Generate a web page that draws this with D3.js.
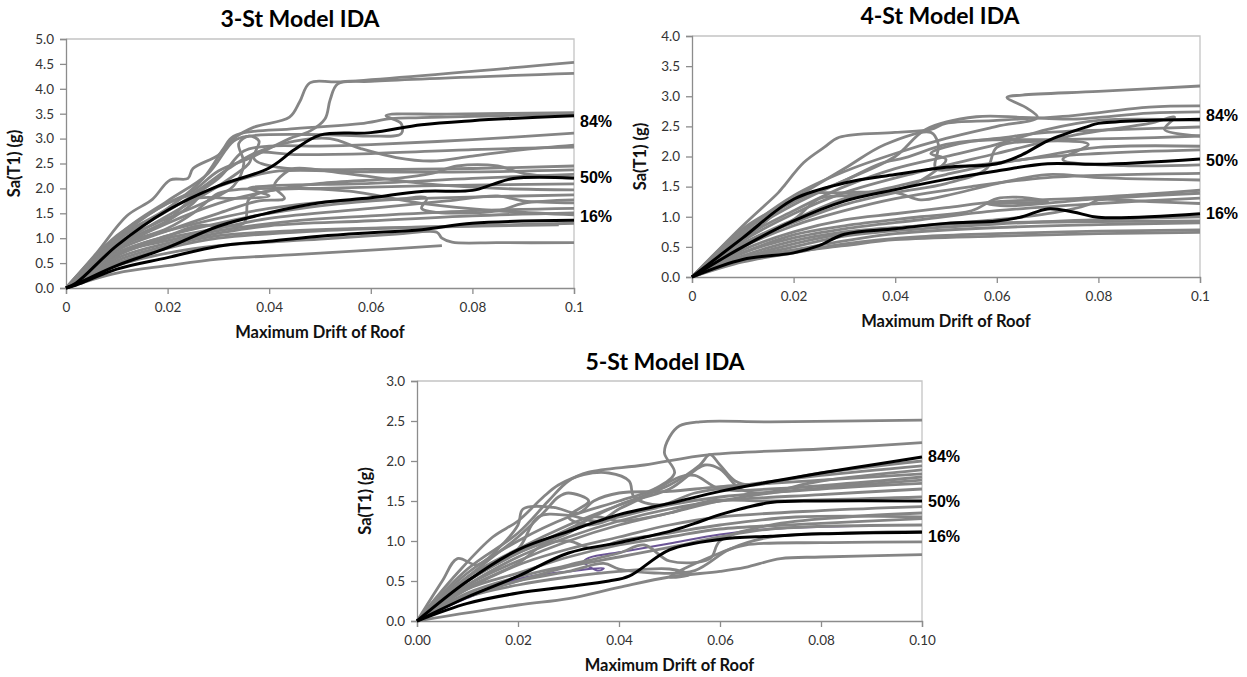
<!DOCTYPE html>
<html>
<head>
<meta charset="utf-8">
<script src="https://cdn.jsdelivr.net/npm/d3@7"></script>
<style>
  body { margin: 0; background: #fff; }
  svg { display: block; }
  .tick-label { font-family: Lato, "Open Sans", sans-serif; font-size: 13.5px; fill: #333; }
  .axis-title { font-family: Lato, "Open Sans", sans-serif; font-size: 16.5px; font-weight: bold; fill: #111; }
  .chart-title { font-family: Lato, "Open Sans", sans-serif; font-size: 23px; font-weight: bold; fill: #000; }
  .pct { font-family: "Liberation Sans", Arial, sans-serif; font-size: 16px; font-weight: bold; fill: #000; }
</style>
</head>
<body>
<script>
const width = 1247;
const height = 677;

// tick values
const xTicks = [0, 0.02, 0.04, 0.06, 0.08, 0.1];
const yTicks3 = [0, 0.5, 1, 1.5, 2, 2.5, 3, 3.5, 4, 4.5, 5];
const yTicks4 = [0, 0.5, 1, 1.5, 2, 2.5, 3, 3.5, 4];
const yTicks5 = [0, 0.5, 1, 1.5, 2, 2.5, 3];

const pctLabels = ["84%", "50%", "16%"];
// Sa level where each percentile label sits
const labelSa3 = [3.35, 2.23, 1.43];
const labelSa4 = [2.69, 1.94, 1.06];
const labelSa5 = [2.06, 1.5, 1.06];

// 3-storey IDA curves [drift, Sa]
const ida3 = [
  [[0,0],[0.006,0.7],[0.012,1.45],[0.017,1.78],[0.0205,2.17],[0.024,2.2],[0.025,2.4],[0.03,2.67],[0.033,3.0],[0.037,3.23],[0.044,3.43],[0.046,3.74],[0.048,4.12],[0.054,4.14],[0.1,4.53]],
  [[0,0],[0.01,1.05],[0.02,1.7],[0.025,1.95],[0.03,2.35],[0.036,2.6],[0.041,2.85],[0.044,3.0],[0.048,3.15],[0.051,3.4],[0.052,3.78],[0.0535,4.1],[0.06,4.15],[0.1,4.31]],
  [[0,0],[0.01,1.0],[0.02,1.6],[0.027,2.2],[0.031,2.8],[0.033,3.05],[0.045,3.2],[0.058,3.3],[0.064,3.4],[0.07,3.42],[0.1,3.5]],
  [[0,0],[0.012,1.2],[0.02,1.75],[0.028,2.3],[0.033,2.95],[0.036,3.05],[0.05,3.08],[0.06,3.05],[0.066,3.1],[0.066,3.3],[0.063,3.46],[0.075,3.49],[0.1,3.52]],
  [[0,0],[0.01,0.95],[0.02,1.55],[0.03,2.2],[0.035,2.75],[0.04,2.85],[0.05,2.85],[0.06,2.88],[0.08,2.98],[0.1,3.11]],
  [[0,0],[0.012,1.15],[0.02,1.7],[0.025,1.9],[0.032,2.4],[0.037,2.7],[0.045,2.95],[0.052,3.0],[0.058,2.8],[0.065,2.62],[0.072,2.55],[0.08,2.65],[0.09,2.78],[0.1,2.87]],
  [[0,0],[0.01,0.85],[0.02,1.45],[0.03,2.05],[0.036,2.5],[0.037,2.7],[0.045,2.68],[0.06,2.7],[0.08,2.78],[0.1,2.83]],
  [[0,0],[0.01,0.9],[0.02,1.4],[0.028,1.75],[0.033,2.05],[0.035,2.5],[0.034,2.9],[0.036,3.05],[0.038,2.95],[0.037,2.6],[0.042,2.42],[0.06,2.38],[0.08,2.4],[0.1,2.45]],
  [[0,0],[0.012,0.95],[0.02,1.35],[0.025,1.7],[0.027,1.9],[0.035,2.2],[0.042,2.35],[0.06,2.33],[0.08,2.33],[0.1,2.37]],
  [[0,0],[0.01,0.8],[0.02,1.3],[0.03,1.7],[0.04,1.95],[0.05,2.1],[0.065,2.2],[0.072,2.3],[0.077,2.45],[0.085,2.45],[0.09,2.3],[0.1,2.2]],
  [[0,0],[0.011,0.85],[0.02,1.2],[0.025,1.5],[0.03,1.9],[0.034,1.98],[0.05,2.0],[0.07,2.05],[0.1,2.09]],
  [[0,0],[0.01,0.75],[0.02,1.15],[0.03,1.5],[0.038,1.75],[0.043,1.8],[0.041,2.05],[0.043,2.3],[0.045,2.4],[0.055,2.3],[0.07,2.1],[0.085,2.0],[0.1,1.97]],
  [[0,0],[0.012,0.9],[0.02,1.15],[0.03,1.4],[0.04,1.6],[0.05,1.72],[0.07,1.8],[0.1,1.87]],
  [[0,0],[0.01,0.7],[0.02,1.05],[0.03,1.3],[0.04,1.5],[0.05,1.65],[0.065,1.78],[0.071,1.8],[0.07,1.6],[0.073,1.52],[0.085,1.55],[0.09,1.7],[0.1,1.77]],
  [[0,0],[0.01,0.65],[0.02,1.0],[0.03,1.2],[0.04,1.4],[0.06,1.6],[0.075,1.75],[0.085,1.85],[0.09,1.75],[0.1,1.71]],
  [[0,0],[0.012,0.75],[0.02,0.95],[0.03,1.15],[0.045,1.35],[0.06,1.45],[0.08,1.55],[0.1,1.6]],
  [[0,0],[0.01,0.6],[0.02,0.9],[0.03,1.1],[0.04,1.25],[0.06,1.35],[0.08,1.45],[0.1,1.51]],
  [[0,0],[0.01,0.7],[0.02,1.05],[0.026,1.25],[0.035,1.3],[0.036,1.78],[0.04,1.95],[0.055,1.95],[0.07,1.7],[0.085,1.55],[0.1,1.47]],
  [[0,0],[0.01,0.55],[0.02,0.85],[0.03,1.05],[0.045,1.15],[0.06,1.2],[0.08,1.25],[0.1,1.3]],
  [[0,0],[0.01,0.5],[0.02,0.8],[0.03,1.0],[0.05,1.15],[0.07,1.22],[0.097,1.27]],
  [[0,0],[0.01,0.45],[0.02,0.7],[0.03,0.85],[0.05,0.98],[0.065,1.08],[0.073,1.12],[0.074,1.0],[0.076,0.92],[0.085,0.91],[0.1,0.91]],
  [[0,0],[0.01,0.3],[0.02,0.45],[0.03,0.58],[0.045,0.67],[0.06,0.76],[0.074,0.85]],
  [[0,0],[0.01,0.8],[0.02,1.35],[0.025,1.78],[0.033,1.8],[0.04,1.85],[0.036,2.0],[0.04,2.05],[0.06,2.1],[0.08,2.2],[0.1,2.28]]
];
const p84_3 = [[0,0],[0.002,0.1],[0.01,0.85],[0.02,1.56],[0.03,2.05],[0.04,2.41],[0.045,2.78],[0.05,3.07],[0.06,3.12],[0.07,3.28],[0.08,3.36],[0.1,3.46]];
const p50_3 = [[0,0],[0.002,0.08],[0.01,0.45],[0.02,0.81],[0.03,1.24],[0.04,1.51],[0.05,1.71],[0.06,1.81],[0.07,1.94],[0.08,1.96],[0.084,2.08],[0.088,2.2],[0.1,2.21]];
const p16_3 = [[0,0],[0.002,0.06],[0.01,0.38],[0.02,0.61],[0.03,0.84],[0.04,0.94],[0.05,1.04],[0.06,1.11],[0.07,1.17],[0.08,1.3],[0.1,1.36]];

// 4-storey IDA curves
const ida4 = [
  [[0,0],[0.01,0.75],[0.02,1.35],[0.03,1.75],[0.04,2.05],[0.05,2.3],[0.06,2.5],[0.068,2.65],[0.066,2.8],[0.062,2.98],[0.065,3.02],[0.08,3.08],[0.1,3.17]],
  [[0,0],[0.01,0.85],[0.017,1.4],[0.018,1.5],[0.022,1.9],[0.026,2.15],[0.029,2.32],[0.04,2.4],[0.047,2.45],[0.05,2.55],[0.06,2.6],[0.075,2.68],[0.09,2.82],[0.1,2.84]],
  [[0,0],[0.01,0.7],[0.02,1.2],[0.03,1.6],[0.04,2.0],[0.046,2.45],[0.056,2.66],[0.065,2.65],[0.075,2.62],[0.09,2.72],[0.1,2.74]],
  [[0,0],[0.01,0.8],[0.02,1.3],[0.03,1.8],[0.038,2.2],[0.047,2.4],[0.0485,2.2],[0.048,1.8],[0.055,1.85],[0.065,1.95],[0.08,2.15],[0.1,2.17]],
  [[0,0],[0.01,0.75],[0.02,1.25],[0.03,1.6],[0.037,1.88],[0.042,1.98],[0.05,2.2],[0.06,2.3],[0.07,2.4],[0.085,2.45],[0.1,2.49]],
  [[0,0],[0.01,0.65],[0.02,1.1],[0.03,1.5],[0.04,1.8],[0.05,2.0],[0.06,2.2],[0.07,2.45],[0.08,2.6],[0.1,2.6]],
  [[0,0],[0.01,0.6],[0.02,1.05],[0.03,1.4],[0.045,1.75],[0.06,2.05],[0.075,2.35],[0.09,2.55],[0.095,2.65],[0.093,2.45],[0.1,2.34]],
  [[0,0],[0.01,0.55],[0.02,0.95],[0.03,1.3],[0.04,1.5],[0.05,1.7],[0.065,1.95],[0.08,2.05],[0.1,2.11]],
  [[0,0],[0.01,0.55],[0.02,0.9],[0.03,1.2],[0.04,1.4],[0.05,1.55],[0.058,1.8],[0.06,2.15],[0.068,2.25],[0.078,2.2],[0.073,1.95],[0.085,1.85],[0.1,1.86]],
  [[0,0],[0.01,0.5],[0.02,0.85],[0.03,1.1],[0.04,1.3],[0.055,1.5],[0.07,1.65],[0.1,1.72]],
  [[0,0],[0.01,0.55],[0.02,0.95],[0.025,1.3],[0.03,1.35],[0.04,1.4],[0.045,1.28],[0.05,1.35],[0.06,1.55],[0.07,1.7],[0.08,1.65],[0.1,1.61]],
  [[0,0],[0.01,0.45],[0.02,0.75],[0.03,0.95],[0.04,1.05],[0.05,1.15],[0.06,1.25],[0.075,1.3],[0.09,1.38],[0.1,1.44]],
  [[0,0],[0.01,0.4],[0.02,0.7],[0.03,0.85],[0.045,1.0],[0.055,1.1],[0.06,1.3],[0.065,1.32],[0.07,1.25],[0.058,1.22],[0.062,1.18],[0.08,1.3],[0.1,1.39]],
  [[0,0],[0.01,0.4],[0.02,0.65],[0.03,0.8],[0.045,0.95],[0.06,1.1],[0.08,1.22],[0.1,1.31]],
  [[0,0],[0.01,0.35],[0.02,0.6],[0.03,0.75],[0.045,0.85],[0.06,0.95],[0.07,1.05],[0.078,1.2],[0.08,1.28],[0.09,1.25],[0.1,1.22]],
  [[0,0],[0.01,0.3],[0.02,0.5],[0.03,0.68],[0.045,0.8],[0.06,0.88],[0.08,0.95],[0.1,1.0]],
  [[0,0],[0.01,0.3],[0.02,0.45],[0.03,0.6],[0.04,0.72],[0.06,0.82],[0.08,0.87],[0.1,0.9]],
  [[0,0],[0.01,0.25],[0.02,0.4],[0.03,0.55],[0.045,0.67],[0.06,0.72],[0.08,0.76],[0.1,0.78]],
  [[0,0],[0.01,0.28],[0.02,0.42],[0.03,0.52],[0.04,0.62],[0.06,0.68],[0.08,0.72],[0.1,0.74]],
  [[0,0],[0.01,0.32],[0.02,0.55],[0.03,0.72],[0.045,0.85],[0.06,0.9],[0.08,0.92],[0.1,0.93]],
  [[0,0],[0.01,0.6],[0.02,1.3],[0.022,1.38],[0.03,1.4],[0.04,1.45],[0.045,1.6],[0.05,1.95],[0.047,2.05],[0.055,2.25],[0.07,2.28],[0.085,2.3],[0.1,2.34]]
];
const p84_4 = [[0,0],[0.01,0.65],[0.02,1.29],[0.03,1.56],[0.04,1.7],[0.05,1.82],[0.06,1.88],[0.065,2.03],[0.07,2.26],[0.078,2.5],[0.08,2.55],[0.1,2.62]];
const p50_4 = [[0,0],[0.01,0.5],[0.02,0.93],[0.03,1.26],[0.04,1.45],[0.05,1.62],[0.06,1.76],[0.07,1.88],[0.08,1.87],[0.1,1.96]];
const p16_4 = [[0,0],[0.01,0.29],[0.02,0.4],[0.025,0.52],[0.03,0.71],[0.04,0.8],[0.05,0.89],[0.06,0.93],[0.065,1.0],[0.07,1.13],[0.075,1.08],[0.08,0.99],[0.1,1.05]];

// 5-storey IDA curves
const ida5 = [
  [[0,0],[0.01,0.6],[0.02,1.0],[0.03,1.3],[0.04,1.5],[0.047,1.65],[0.051,1.85],[0.049,2.1],[0.05,2.3],[0.052,2.44],[0.056,2.49],[0.07,2.49],[0.1,2.51]],
  [[0,0],[0.01,0.65],[0.02,1.1],[0.026,1.5],[0.03,1.75],[0.034,1.86],[0.045,1.95],[0.058,2.08],[0.08,2.15],[0.1,2.23]],
  [[0,0],[0.01,0.55],[0.02,0.9],[0.03,1.2],[0.04,1.45],[0.05,1.7],[0.056,1.95],[0.058,2.08],[0.06,1.95],[0.063,1.75],[0.066,1.7],[0.08,1.85],[0.1,2.0]],
  [[0,0],[0.008,0.6],[0.015,1.05],[0.02,1.25],[0.025,1.55],[0.028,1.7],[0.033,1.83],[0.038,1.85],[0.042,1.75],[0.043,1.55],[0.048,1.45],[0.055,1.6],[0.065,1.7],[0.08,1.82],[0.1,1.94]],
  [[0,0],[0.01,0.5],[0.02,0.85],[0.03,1.15],[0.04,1.45],[0.05,1.65],[0.057,1.95],[0.06,1.9],[0.064,1.65],[0.068,1.6],[0.08,1.75],[0.1,1.89]],
  [[0,0],[0.005,0.5],[0.008,0.78],[0.012,0.7],[0.016,0.9],[0.02,1.2],[0.021,1.4],[0.027,1.42],[0.032,1.35],[0.035,1.5],[0.04,1.6],[0.05,1.62],[0.06,1.68],[0.08,1.76],[0.1,1.84]],
  [[0,0],[0.01,0.5],[0.02,0.9],[0.024,1.3],[0.03,1.32],[0.036,1.25],[0.04,1.4],[0.045,1.55],[0.052,1.8],[0.055,1.82],[0.06,1.65],[0.07,1.65],[0.1,1.8]],
  [[0,0],[0.01,0.45],[0.02,0.75],[0.03,1.0],[0.04,1.2],[0.05,1.35],[0.06,1.5],[0.07,1.6],[0.1,1.76]],
  [[0,0],[0.01,0.55],[0.015,0.8],[0.02,1.05],[0.025,1.35],[0.028,1.55],[0.03,1.6],[0.034,1.5],[0.03,1.3],[0.034,1.2],[0.04,1.3],[0.05,1.45],[0.06,1.55],[0.08,1.65],[0.1,1.72]],
  [[0,0],[0.01,0.4],[0.02,0.7],[0.03,0.9],[0.04,1.05],[0.05,1.2],[0.06,1.3],[0.08,1.38],[0.1,1.43]],
  [[0,0],[0.01,0.35],[0.02,0.55],[0.03,0.7],[0.04,0.85],[0.045,0.95],[0.05,0.75],[0.058,0.78],[0.06,1.0],[0.07,1.2],[0.085,1.3],[0.1,1.35]],
  [[0,0],[0.01,0.4],[0.02,0.6],[0.03,0.8],[0.04,0.95],[0.05,1.05],[0.06,1.15],[0.08,1.22],[0.1,1.28]],
  [[0,0],[0.01,0.3],[0.02,0.5],[0.03,0.68],[0.04,0.8],[0.05,0.92],[0.06,1.05],[0.07,1.15],[0.1,1.2]],
  [[0,0],[0.01,0.3],[0.02,0.45],[0.03,0.55],[0.04,0.62],[0.05,0.65],[0.054,0.58],[0.05,0.55],[0.06,0.85],[0.065,0.95],[0.08,0.98],[0.1,0.99]],
  [[0,0],[0.02,0.2],[0.03,0.28],[0.04,0.42],[0.05,0.55],[0.06,0.62],[0.065,0.67],[0.072,0.78],[0.08,0.8],[0.1,0.83]],
  [[0,0],[0.01,0.45],[0.02,0.8],[0.03,1.05],[0.04,1.25],[0.05,1.4],[0.06,1.5],[0.08,1.58],[0.1,1.65]],
  [[0,0],[0.01,0.32],[0.02,0.5],[0.03,0.62],[0.037,0.72],[0.04,0.65],[0.047,0.6],[0.055,0.63],[0.062,0.9],[0.07,1.05],[0.085,1.1],[0.1,1.12]],
  [[0,0],[0.01,0.42],[0.02,0.72],[0.025,0.95],[0.03,1.0],[0.035,0.9],[0.04,1.0],[0.05,1.1],[0.06,1.2],[0.075,1.3],[0.1,1.3]],
  [[0,0],[0.01,0.5],[0.02,0.85],[0.03,1.1],[0.035,1.3],[0.04,1.25],[0.05,1.35],[0.058,1.5],[0.07,1.5],[0.1,1.55]]
];
const purple5 = [[0,0],[0.01,0.29],[0.021,0.54],[0.03,0.62],[0.037,0.66],[0.036,0.63],[0.033,0.74],[0.034,0.79],[0.041,0.87],[0.05,0.97],[0.06,1.08],[0.07,1.15],[0.09,1.19]];
const p84_5 = [[0,0],[0.01,0.5],[0.02,0.89],[0.03,1.12],[0.04,1.33],[0.05,1.47],[0.06,1.62],[0.07,1.74],[0.08,1.85],[0.09,1.95],[0.1,2.05]];
const p50_5 = [[0,0],[0.01,0.3],[0.02,0.56],[0.03,0.85],[0.04,0.98],[0.05,1.12],[0.055,1.22],[0.06,1.33],[0.07,1.48],[0.08,1.5],[0.1,1.5]];
const p16_5 = [[0,0],[0.01,0.22],[0.02,0.35],[0.03,0.43],[0.038,0.5],[0.042,0.56],[0.05,0.89],[0.06,1.02],[0.07,1.06],[0.08,1.09],[0.1,1.11]];

const svg = d3.select("body")
  .append("svg")
  .attr("width", width)
  .attr("height", height);

const panels = [
  { title: "3-St Model IDA", curves: ida3, pct: [p84_3, p50_3, p16_3], labelSa: labelSa3,
    yTicks: yTicks3, yMax: 5, left: 66, right: 574, top: 39, bottom: 288,
    titleX: 300, titleY: 27, xFormat: d3.format("~g") },
  { title: "4-St Model IDA", curves: ida4, pct: [p84_4, p50_4, p16_4], labelSa: labelSa4,
    yTicks: yTicks4, yMax: 4, left: 692, right: 1200, top: 36, bottom: 277,
    titleX: 940, titleY: 24, xFormat: d3.format("~g") },
  { title: "5-St Model IDA", curves: ida5, pct: [p84_5, p50_5, p16_5], labelSa: labelSa5,
    yTicks: yTicks5, yMax: 3, left: 417, right: 922, top: 381, bottom: 621,
    titleX: 665, titleY: 370, xFormat: d3.format(".2f"), extra: purple5 }
];

panels.forEach(p => {
  const x = d3.scaleLinear().domain([0, 0.1]).range([p.left, p.right]);
  const y = d3.scaleLinear().domain([0, p.yMax]).range([p.bottom, p.top]);
  const g = svg.append("g");

  // plot border (top/right)
  g.append("path")
    .attr("d", `M${p.left},${p.top}H${p.right}V${p.bottom}`)
    .attr("fill", "none")
    .attr("stroke", "#c4c4c4")
    .attr("stroke-width", 1.3);

  const yAxis = d3.axisLeft(y).tickValues(p.yTicks).tickFormat(d3.format(".1f"))
    .tickSizeOuter(0).tickSize(6).tickPadding(6);
  const xAxis = d3.axisBottom(x).tickValues(xTicks).tickFormat(p.xFormat)
    .tickSizeOuter(0).tickSize(6).tickPadding(8);

  const ya = g.append("g").attr("transform", `translate(${p.left},0)`).call(yAxis);
  const xa = g.append("g").attr("transform", `translate(0,${p.bottom})`).call(xAxis);
  [ya, xa].forEach(a => {
    a.select(".domain").attr("stroke", "#8c8c8c").attr("stroke-width", 1.3);
    a.selectAll(".tick line").attr("stroke", "#8c8c8c").attr("stroke-width", 1.3);
    a.selectAll(".tick text").attr("class", "tick-label").attr("fill", null);
  });

  const line = d3.line()
    .x(d => x(d[0]))
    .y(d => y(d[1]))
    .curve(d3.curveCatmullRom.alpha(0.5));

  if (p.extra) {
    g.append("path")
      .attr("d", line(p.extra))
      .attr("fill", "none")
      .attr("stroke", "#6b5596")
      .attr("stroke-width", 2);
  }

  g.selectAll(".ida")
    .data(p.curves)
    .enter()
    .append("path")
    .attr("class", "ida")
    .attr("d", line)
    .attr("fill", "none")
    .attr("stroke", "#858585")
    .attr("stroke-width", 2.8)
    .attr("stroke-linejoin", "round");

  g.selectAll(".pctline")
    .data(p.pct)
    .enter()
    .append("path")
    .attr("class", "pctline")
    .attr("d", line)
    .attr("fill", "none")
    .attr("stroke", "#000")
    .attr("stroke-width", 3);

  g.selectAll(".pct")
    .data(pctLabels)
    .enter()
    .append("text")
    .attr("class", "pct")
    .attr("x", x(0.1) + 6)
    .attr("y", (d, i) => y(p.labelSa[i]))
    .attr("dy", "0.35em")
    .text(d => d);

  g.append("text")
    .attr("class", "chart-title")
    .attr("x", p.titleX)
    .attr("y", p.titleY)
    .attr("text-anchor", "middle")
    .text(p.title);

  g.append("text")
    .attr("class", "axis-title")
    .attr("x", (p.left + p.right) / 2)
    .attr("y", p.bottom + 50)
    .attr("text-anchor", "middle")
    .text("Maximum Drift of Roof");

  g.append("text")
    .attr("class", "axis-title")
    .attr("transform", `translate(${p.left - 46},${(p.top + p.bottom) / 2}) rotate(-90)`)
    .attr("text-anchor", "middle")
    .text("Sa(T1) (g)");
});
</script>
</body>
</html>
